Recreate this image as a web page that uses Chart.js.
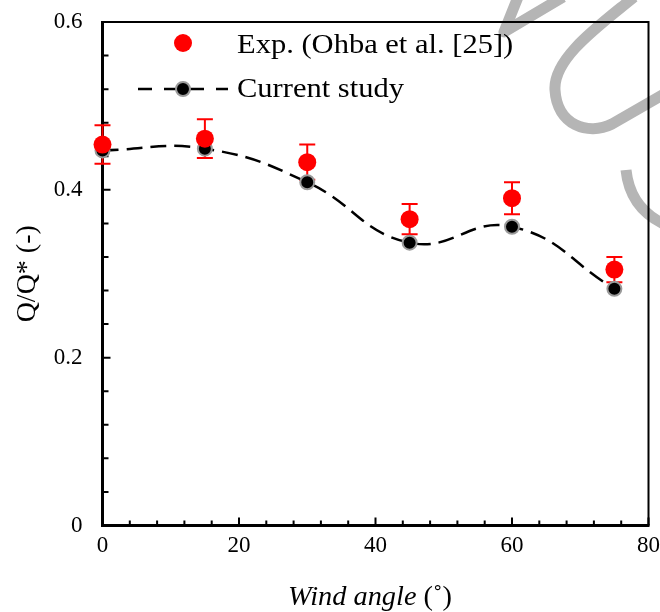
<!DOCTYPE html>
<html><head><meta charset="utf-8">
<script src="https://cdn.jsdelivr.net/npm/chart.js@4/dist/chart.umd.min.js"></script>
<style>html,body{margin:0;padding:0;background:#fff;} canvas{display:block;}</style>
</head><body>
<canvas id="c" width="660" height="612"></canvas>
<script>
// ---- data ----
const windAngles = [0, 15, 30, 45, 60, 75];
const expValues = [0.454, 0.461, 0.433, 0.365, 0.390, 0.305];
const expErrors = [0.023, 0.023, 0.021, 0.018, 0.019, 0.015];
const studyValues = [0.447, 0.449, 0.409, 0.337, 0.356, 0.282];
const xTickLabels = ['0', '20', '40', '60', '80'];
const yTickLabels = ['0', '0.2', '0.4', '0.6'];
const seriesNames = ['Exp. (Ohba et al. [25])', 'Current study'];
const xTitle = 'Wind angle';
const xTitleUnit = ' (\u02DA)';
const yTitle = 'Q/Q* (-)';

const SERIF = '"Liberation Serif", "Times New Roman", serif';

function labelFor(list, v) {
  for (const s of list) { if (Math.abs(parseFloat(s) - v) < 1e-6) return s; }
  return '';
}

const decor = {
  id: 'decor',
  beforeDraw(chart) {
    const ctx = chart.ctx;
    ctx.save();
    ctx.strokeStyle = '#b5b5b5';
    ctx.lineWidth = 11;
    ctx.lineJoin = 'round';
    ctx.lineCap = 'butt';
    ctx.beginPath();
    ctx.moveTo(518, -3); ctx.lineTo(504, 32); ctx.lineTo(563, -3);
    ctx.stroke();
    ctx.beginPath();
    ctx.moveTo(634, -3);
    ctx.bezierCurveTo(600, 25, 553, 58, 555, 90);
    ctx.bezierCurveTo(557, 125, 588, 136, 612, 124);
    ctx.lineTo(664, 94);
    ctx.stroke();
    ctx.beginPath();
    ctx.moveTo(626, 170);
    ctx.quadraticCurveTo(630, 208, 664, 224);
    ctx.stroke();
    ctx.restore();
  },
  beforeDatasetsDraw(chart) {
    const ctx = chart.ctx;
    const a = chart.chartArea;
    const xs = chart.scales.x, ys = chart.scales.y;
    ctx.save();
    ctx.strokeStyle = '#000';
    ctx.lineWidth = 2;
    ctx.beginPath();
    ctx.moveTo(a.left, a.top); ctx.lineTo(a.right, a.top); ctx.lineTo(a.right, a.bottom);
    ctx.stroke();
    ctx.lineWidth = 3;
    ctx.beginPath();
    ctx.moveTo(a.left, a.top - 1); ctx.lineTo(a.left, a.bottom); ctx.lineTo(a.right + 1, a.bottom);
    ctx.stroke();
    ctx.lineWidth = 2;
    ctx.beginPath();
    xs.ticks.forEach(t => {
      const p = xs.getPixelForValue(t.value);
      const major = labelFor(xTickLabels, t.value) !== '';
      ctx.moveTo(p, a.bottom); ctx.lineTo(p, a.bottom - (major ? 8 : 5));
    });
    ys.ticks.forEach(t => {
      const p = ys.getPixelForValue(t.value);
      const major = labelFor(yTickLabels, t.value) !== '';
      ctx.moveTo(a.left, p); ctx.lineTo(a.left + (major ? 8 : 6), p);
    });
    ctx.stroke();
    ctx.strokeStyle = '#ff0000';
    ctx.lineWidth = 2;
    ctx.beginPath();
    windAngles.forEach((xv, i) => {
      const px = xs.getPixelForValue(xv);
      const hi = ys.getPixelForValue(expValues[i] + expErrors[i]);
      const lo = ys.getPixelForValue(expValues[i] - expErrors[i]);
      ctx.moveTo(px, hi); ctx.lineTo(px, lo);
      ctx.moveTo(px - 8, hi); ctx.lineTo(px + 8, hi);
      ctx.moveTo(px - 8, lo); ctx.lineTo(px + 8, lo);
    });
    ctx.stroke();
    ctx.restore();
  },
  afterDraw(chart) {
    const ctx = chart.ctx;
    ctx.save();
    ctx.fillStyle = '#ff0000';
    ctx.beginPath(); ctx.arc(183, 43, 9, 0, Math.PI * 2); ctx.fill();
    ctx.strokeStyle = '#000';
    ctx.lineWidth = 2.5;
    ctx.setLineDash([14, 12]);
    ctx.beginPath(); ctx.moveTo(138, 89); ctx.lineTo(228, 89); ctx.stroke();
    ctx.setLineDash([]);
    ctx.beginPath(); ctx.arc(183, 89, 7, 0, Math.PI * 2);
    ctx.fillStyle = '#000'; ctx.fill();
    ctx.lineWidth = 2; ctx.strokeStyle = '#9a9a9a'; ctx.stroke();
    ctx.fillStyle = '#000';
    ctx.textBaseline = 'alphabetic';
    ctx.textAlign = 'left';
    ctx.font = '28px ' + SERIF;
    [[seriesNames[0], 53], [seriesNames[1], 97]].forEach(([s, y]) => {
      ctx.save(); ctx.translate(237, y); ctx.scale(1.09, 1); ctx.fillText(s, 0, 0); ctx.restore();
    });
    ctx.font = 'italic 27px ' + SERIF;
    const w1 = ctx.measureText(xTitle).width;
    ctx.font = '27px ' + SERIF;
    const w2 = ctx.measureText(xTitleUnit).width;
    const sx = 1.05;
    const total = (w1 + w2) * sx;
    const x0 = 370 - total / 2;
    ctx.save(); ctx.translate(x0, 605); ctx.scale(sx, 1);
    ctx.font = 'italic 27px ' + SERIF; ctx.fillText(xTitle, 0, 0);
    ctx.font = '27px ' + SERIF; ctx.fillText(xTitleUnit, w1, 0);
    ctx.restore();
    ctx.restore();
  }
};

function zeroPad(s) { s.paddingTop = 0; s.paddingBottom = 0; s.paddingLeft = 0; s.paddingRight = 0; }

new Chart(document.getElementById('c'), {
  type: 'scatter',
  data: {
    datasets: [
      {
        label: seriesNames[1],
        type: 'line',
        data: windAngles.map((x, i) => ({ x, y: studyValues[i] })),
        borderColor: '#000',
        borderWidth: 2.5,
        borderDash: [16, 8],
        tension: 0.45,
        fill: false,
        pointRadius: 7,
        pointBackgroundColor: '#000',
        pointBorderColor: '#9a9a9a',
        pointBorderWidth: 2,
        clip: false,
        order: 1
      },
      {
        label: seriesNames[0],
        data: windAngles.map((x, i) => ({ x, y: expValues[i] })),
        showLine: false,
        pointRadius: 9,
        pointBackgroundColor: '#ff0000',
        pointBorderColor: '#ff0000',
        pointBorderWidth: 0,
        clip: false,
        order: 0
      }
    ]
  },
  options: {
    responsive: false,
    animation: false,
    devicePixelRatio: 1,
    layout: { padding: { top: 22, right: 11.5, left: 0, bottom: 0 } },
    plugins: { legend: { display: false }, tooltip: { enabled: false } },
    scales: {
      x: {
        type: 'linear', min: 0, max: 80,
        grid: { display: false, drawTicks: false },
        border: { display: false },
        ticks: {
          stepSize: 4, autoSkip: false, maxRotation: 0, padding: 7,
          color: '#000', font: { family: SERIF, size: 23 },
          callback: v => labelFor(xTickLabels, v)
        },
        afterFit: s => { s.height = 86.5; zeroPad(s); }
      },
      y: {
        type: 'linear', min: 0, max: 0.6,
        grid: { display: false, drawTicks: false },
        border: { display: false },
        ticks: {
          stepSize: 0.04, autoSkip: false, padding: 20,
          color: '#000', font: { family: SERIF, size: 23 },
          callback: v => labelFor(yTickLabels, v)
        },
        title: {
          display: true, text: yTitle, color: '#000',
          font: { family: SERIF, size: 28 },
          padding: { top: 11, bottom: 0 }
        },
        afterFit: s => { s.width = 102.5; zeroPad(s); }
      }
    }
  },
  plugins: [decor]
});
</script>
</body></html>
